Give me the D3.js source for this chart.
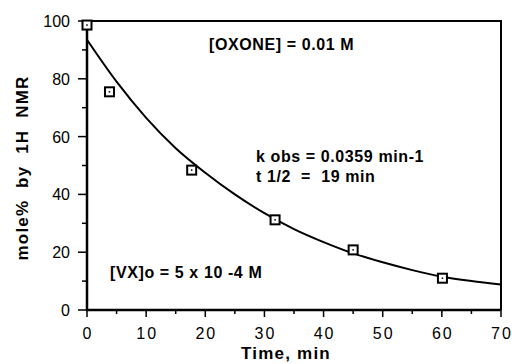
<!DOCTYPE html>
<html>
<head>
<meta charset="UTF-8">
<style>
    body { margin: 0; background: #fff; }
    svg text { font-family: "Liberation Sans", Arial, Helvetica, sans-serif; fill: #000; }
    .tick-label { font-size: 16px; }
    .x-tick-label { letter-spacing: 2px; }
    .note { font-size: 16px; font-weight: bold; letter-spacing: 0.6px; }
    .axis-title { font-size: 17px; font-weight: bold; letter-spacing: 1.2px; }
</style>
<title>VX oxidation</title>
</head>
<body>
<svg id="chart" width="512" height="364"></svg>

<script src="https://cdn.jsdelivr.net/npm/d3@7"></script>
<script>
    // measured points (time, mole%)
    const pointTimes = [0, 3.8, 17.7, 31.8, 45, 60.1];
    const pointValues = [98.6, 75.5, 48.4, 31.2, 20.8, 11.0];

    // fitted curve
    const curveTimes = [0, 5, 10, 15, 20, 25, 30, 35, 40, 45, 50, 55, 60, 65, 70];
    const curveValues = [93.5, 79, 66.5, 56, 47.5, 40, 33.5, 28, 23.5, 19.6, 16.5, 13.8, 11.5, 10, 8.8];

    const xTicks = [0, 10, 20, 30, 40, 50, 60, 70];
    const yTicks = [0, 20, 40, 60, 80, 100];

    const svg = d3.select("#chart");
    const plotLeft = 87, plotRight = 501, plotTop = 21, plotBottom = 310;

    const x = d3.scaleLinear().domain([0, 70]).range([plotLeft, plotRight]);
    const y = d3.scaleLinear().domain([0, 100]).range([plotBottom, plotTop]);

    // frame (top and right)
    svg.append("path")
        .attr("d", `M${plotLeft},${plotTop}H${plotRight}V${plotBottom}`)
        .attr("fill", "none")
        .attr("stroke", "#000")
        .attr("stroke-width", 2);

    // y axis
    const yAxis = svg.append("g");
    yAxis.append("line")
        .attr("x1", plotLeft).attr("x2", plotLeft)
        .attr("y1", plotTop).attr("y2", plotBottom + 1)
        .attr("stroke", "#000").attr("stroke-width", 2.5);
    yAxis.selectAll(".yminor")
        .data(d3.range(10, 100, 20))
        .join("line")
        .attr("x1", plotLeft - 5).attr("x2", plotLeft)
        .attr("y1", d => y(d)).attr("y2", d => y(d))
        .attr("stroke", "#000").attr("stroke-width", 1.5);
    yAxis.selectAll(".ymajor")
        .data(yTicks)
        .join("line")
        .attr("x1", plotLeft - 9).attr("x2", plotLeft)
        .attr("y1", d => y(d)).attr("y2", d => y(d))
        .attr("stroke", "#000").attr("stroke-width", 1.5);
    yAxis.selectAll("text")
        .data(yTicks)
        .join("text")
        .attr("class", "tick-label")
        .attr("x", 70)
        .attr("y", d => y(d) + 6)
        .attr("text-anchor", "end")
        .text(d => d);

    // x axis
    const xAxis = svg.append("g");
    xAxis.append("line")
        .attr("x1", plotLeft - 1).attr("x2", plotRight)
        .attr("y1", plotBottom).attr("y2", plotBottom)
        .attr("stroke", "#000").attr("stroke-width", 2.5);
    xAxis.selectAll(".xminor")
        .data(d3.range(5, 70, 10))
        .join("line")
        .attr("x1", d => x(d)).attr("x2", d => x(d))
        .attr("y1", plotBottom).attr("y2", plotBottom + 4)
        .attr("stroke", "#000").attr("stroke-width", 1.5);
    xAxis.selectAll(".xmajor")
        .data(xTicks)
        .join("line")
        .attr("x1", d => x(d)).attr("x2", d => x(d))
        .attr("y1", plotBottom).attr("y2", plotBottom + 7)
        .attr("stroke", "#000").attr("stroke-width", 1.5);
    xAxis.selectAll("text")
        .data(xTicks)
        .join("text")
        .attr("class", "tick-label x-tick-label")
        .attr("x", d => x(d) + 1)
        .attr("y", 339)
        .attr("text-anchor", "middle")
        .text(d => d);

    // fitted curve
    const line = d3.line()
        .x((d, i) => x(curveTimes[i]))
        .y(d => y(d))
        .curve(d3.curveMonotoneX);
    svg.append("path")
        .datum(curveValues)
        .attr("d", line)
        .attr("fill", "none")
        .attr("stroke", "#000")
        .attr("stroke-width", 2);

    // data markers
    svg.selectAll(".pt")
        .data(pointValues)
        .join("rect")
        .attr("x", (d, i) => x(pointTimes[i]) - 4.5)
        .attr("y", d => y(d) - 4.5)
        .attr("width", 9)
        .attr("height", 9)
        .attr("fill", "#fff")
        .attr("stroke", "#000")
        .attr("stroke-width", 2);
    svg.selectAll(".dot")
        .data(pointValues)
        .join("rect")
        .attr("x", (d, i) => x(pointTimes[i]) - 0.75)
        .attr("y", d => y(d) - 0.75)
        .attr("width", 1.5)
        .attr("height", 1.5)
        .attr("fill", "#000");

    // annotations
    svg.append("text").attr("class", "note").attr("x", 209).attr("y", 50).text("[OXONE] = 0.01 M");
    svg.append("text").attr("class", "note").attr("x", 256).attr("y", 162).text("k obs = 0.0359 min-1");
    svg.append("text").attr("class", "note").attr("x", 256).attr("y", 182).attr("xml:space", "preserve").text("t 1/2  =  19 min");
    svg.append("text").attr("class", "note").attr("x", 110).attr("y", 278).text("[VX]o = 5 x 10 -4 M");

    // axis titles
    svg.append("text")
        .attr("class", "axis-title")
        .attr("x", 286).attr("y", 359)
        .attr("text-anchor", "middle")
        .text("Time, min");
    svg.append("text")
        .attr("class", "axis-title")
        .attr("transform", "translate(28,168) rotate(-90)")
        .attr("text-anchor", "middle")
        .attr("xml:space", "preserve")
        .text("mole%  by  1H  NMR");
</script>
</body>
</html>
